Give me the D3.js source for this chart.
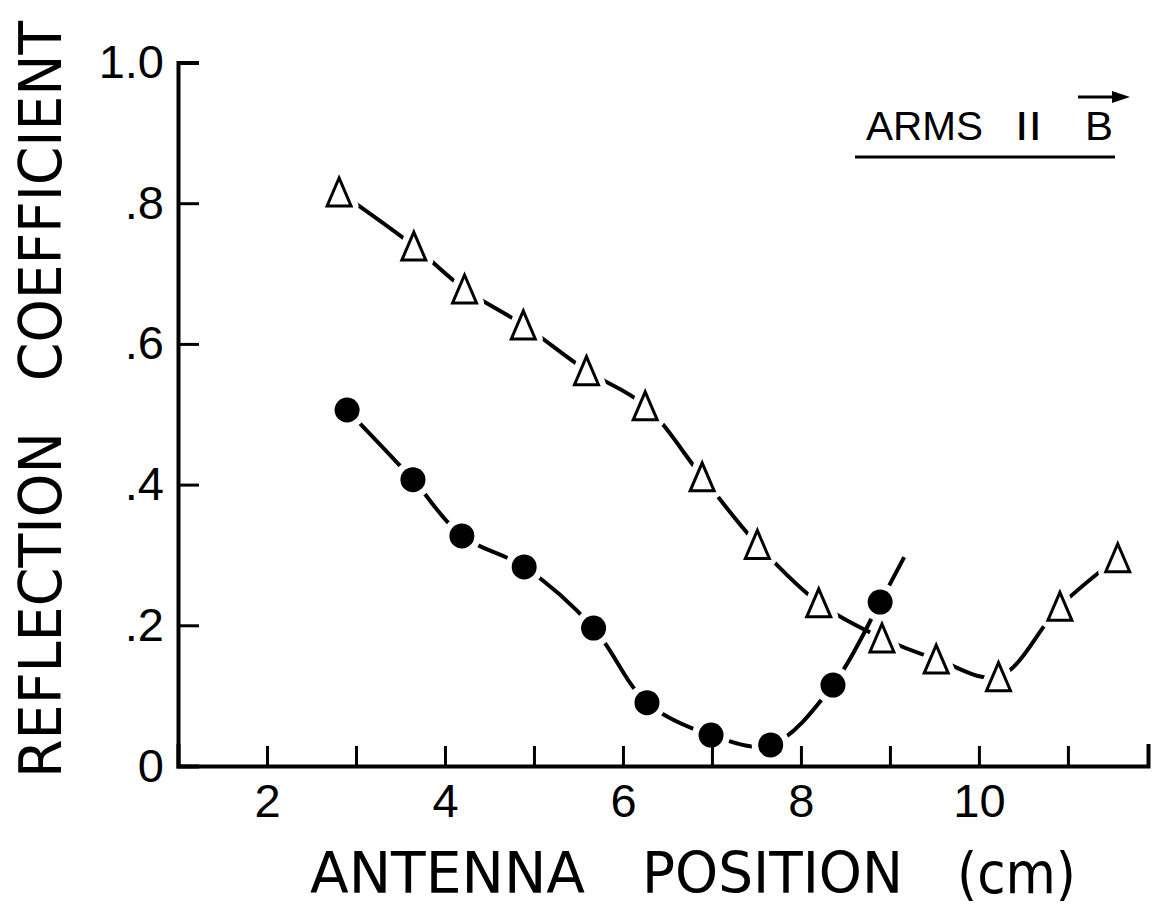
<!DOCTYPE html>
<html><head><meta charset="utf-8">
<script src="https://cdn.jsdelivr.net/npm/d3@7"></script>
<style>html,body{margin:0;padding:0;background:#fff}</style>
</head><body>
<svg id="chart" width="1155" height="908"></svg>
<script>
// ---- data ----
const triX = [2.81, 3.65, 4.22, 4.88, 5.59, 6.25, 6.89, 7.51, 8.20, 8.91, 9.52, 10.22, 10.91, 11.56];
const triY = [0.816, 0.739, 0.678, 0.627, 0.562, 0.512, 0.411, 0.315, 0.232, 0.182, 0.152, 0.127, 0.227, 0.296];
const dotX = [2.90, 3.64, 4.19, 4.89, 5.67, 6.27, 6.99, 7.66, 8.36, 8.89];
const dotY = [0.506, 0.407, 0.327, 0.283, 0.196, 0.090, 0.044, 0.030, 0.115, 0.233];
const dotTailX = [9.16];
const dotTailY = [0.297];
const xTicks = [2, 3, 4, 5, 6, 7, 8, 9, 10, 11];
const xTickLabels = ["2", "", "4", "", "6", "", "8", "", "10", ""];
const yTicks = [0, 0.2, 0.4, 0.6, 0.8, 1.0];
const yTickLabels = ["0", ".2", ".4", ".6", ".8", "1.0"];
const xTitleWords = ["ANTENNA", "POSITION", "(cm)"];
const yTitleWords = ["REFLECTION", "COEFFICIENT"];
const legendWords = ["ARMS", "II", "B"];

// ---- layout ----
const svg = d3.select("#chart");
const x = d3.scaleLinear().domain([1, 11.9]).range([178, 1148]);
const y = d3.scaleLinear().domain([0, 1]).range([766, 62.5]);

const tri = triX.map((v, i) => ({x: v, y: triY[i]}));
const dots = dotX.map((v, i) => ({x: v, y: dotY[i]}));
const dotCurve = dots.concat(dotTailX.map((v, i) => ({x: v, y: dotTailY[i]})));

const line = d3.line().x(d => x(d.x)).y(d => y(d.y)).curve(d3.curveCatmullRom.alpha(0.5));

const triType = {
  draw(ctx, size) {
    const s = Math.sqrt(size / 336);
    const w = 24 * s, h = 28 * s;
    ctx.moveTo(0, -h / 2); ctx.lineTo(w / 2, h / 2); ctx.lineTo(-w / 2, h / 2); ctx.closePath();
  }
};
const triSym = d3.symbol().type(triType).size(336);

// triangle series line + halos
svg.append("path").datum(tri).attr("d", line)
  .attr("fill", "none").attr("stroke", "#000").attr("stroke-width", 4);
svg.append("g").selectAll("path").data(tri).join("path")
  .attr("d", triSym).attr("transform", d => `translate(${x(d.x)},${y(d.y)})`)
  .attr("fill", "#fff").attr("stroke", "#fff").attr("stroke-width", 15).attr("stroke-linejoin", "round");

// dot series line + halos
svg.append("path").datum(dotCurve).attr("d", line)
  .attr("fill", "none").attr("stroke", "#000").attr("stroke-width", 4);
svg.append("g").selectAll("circle").data(dots).join("circle")
  .attr("cx", d => x(d.x)).attr("cy", d => y(d.y)).attr("r", 19).attr("fill", "#fff");

// axes
const xAxis = d3.axisBottom(x).tickValues(xTicks).tickSizeInner(-20).tickSizeOuter(-22)
  .tickPadding(17).tickFormat((d, i) => xTickLabels[i]);
const yAxis = d3.axisLeft(y).tickValues(yTicks).tickSizeInner(-21).tickSizeOuter(-21)
  .tickPadding(14).tickFormat((d, i) => yTickLabels[i]);

const gx = svg.append("g").attr("transform", `translate(0,${y(0)})`).call(xAxis);
const gy = svg.append("g").attr("transform", `translate(${x(1)},0)`).call(yAxis);
[gx, gy].forEach(g => {
  g.attr("font-family", "'Liberation Sans', Arial, sans-serif").attr("font-size", 47).attr("color", "#000");
  g.select(".domain").attr("stroke-width", 4).attr("stroke-linejoin", "miter");
  g.selectAll(".tick line").attr("stroke-width", 3);
});
gx.selectAll(".tick text").attr("dy", "0.72em");

// markers
svg.append("g").selectAll("path").data(tri).join("path")
  .attr("d", triSym).attr("transform", d => `translate(${x(d.x)},${y(d.y)})`)
  .attr("fill", "#fff").attr("stroke", "#000").attr("stroke-width", 3).attr("stroke-linejoin", "miter");
svg.append("g").selectAll("circle").data(dots).join("circle")
  .attr("cx", d => x(d.x)).attr("cy", d => y(d.y)).attr("r", 12.5).attr("fill", "#000");

// axis titles
const titleFont = "'DejaVu Sans', sans-serif";
const xTitlePos = [[310, 275], [642, 261], [957, 119]];
xTitleWords.forEach((w, i) => {
  svg.append("text").attr("x", xTitlePos[i][0]).attr("y", 893)
    .attr("font-family", titleFont).attr("font-size", 57)
    .attr("textLength", xTitlePos[i][1]).attr("lengthAdjust", "spacingAndGlyphs")
    .text(w);
});
const yTitlePos = [[778, 346], [381, 360]];
yTitleWords.forEach((w, i) => {
  svg.append("text").attr("transform", `translate(61,${yTitlePos[i][0]}) rotate(-90)`)
    .attr("font-family", titleFont).attr("font-size", 58)
    .attr("textLength", yTitlePos[i][1]).attr("lengthAdjust", "spacingAndGlyphs")
    .text(w);
});

// legend
const lg = svg.append("g").attr("font-family", "'Liberation Sans', Arial, sans-serif").attr("font-size", 41);
lg.append("text").attr("x", 866).attr("y", 140).attr("textLength", 117).attr("lengthAdjust", "spacingAndGlyphs").text(legendWords[0]);
lg.append("text").attr("x", 1015).attr("y", 140).attr("textLength", 27).attr("lengthAdjust", "spacingAndGlyphs").text(legendWords[1]);
lg.append("text").attr("x", 1085).attr("y", 140).attr("textLength", 28).attr("lengthAdjust", "spacingAndGlyphs").text(legendWords[2]);
lg.append("line").attr("x1", 1078).attr("x2", 1116).attr("y1", 97).attr("y2", 97).attr("stroke", "#000").attr("stroke-width", 3);
lg.append("path").attr("d", "M1112,91L1130,97L1112,103Z").attr("fill", "#000");
lg.append("line").attr("x1", 855).attr("x2", 1115).attr("y1", 157).attr("y2", 157).attr("stroke", "#000").attr("stroke-width", 3);
</script>
</body></html>
